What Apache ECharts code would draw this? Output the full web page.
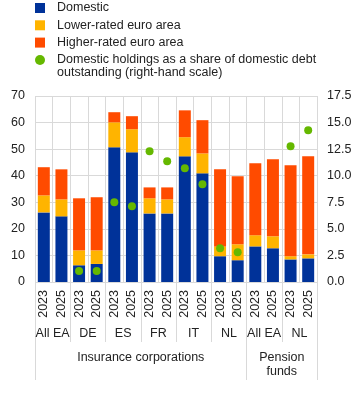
<!DOCTYPE html>
<html><head><meta charset="utf-8">
<script src="https://cdn.jsdelivr.net/npm/echarts@6/dist/echarts.min.js"></script>
<style>html,body{margin:0;padding:0;background:#fff}#c{width:358px;height:403px}</style>
</head><body><div id="c"></div>
<script>
const years = ['2023','2025','2023','2025','2023','2025','2023','2025','2023','2025','2023','2025','2023','2025','2023','2025'];
const countries = ['All EA','DE','ES','FR','IT','NL','All EA','NL'];
const sectorLabels = ['','','','','','','Insurance corporations','','','','','','','','Pension\nfunds','',''];
const sectorTickIdx = [0,12,16];
const domestic = [26.2,24.7,6.3,6.8,50.7,48.8,25.8,25.8,47.3,40.9,9.7,8.2,13.4,12.7,8.5,8.9];
const lowerRated = [6.4,6.4,5.6,5.1,9.4,8.7,5.7,5.3,7.2,7.5,3.7,6.0,4.2,4.5,1.2,1.5];
const higherRated = [10.6,11.3,19.6,20.0,3.8,4.9,4.1,4.5,10.1,12.5,29.0,25.6,27.1,29.0,34.2,36.9];
const shareOfDebt = [null,null,1.03,1.03,7.5,7.12,12.3,11.35,10.7,9.2,3.17,2.79,null,null,12.77,14.27];
const leftTicks = {min:0,max:70,interval:10};
const rightTicks = {min:0,max:17.5,interval:2.5};

const FONT = 'Liberation Sans, Arial, sans-serif';
const FS = 12.5;
const TXT = '#222';
const GRID = '#d9d9d9';
const NAME4_L1 = 'Domestic holdings as a share of domestic debt';
const NAME4_L2 = 'outstanding (right-hand scale)';
const NAME4 = NAME4_L1 + '\n' + NAME4_L2;
const chart = echarts.init(document.getElementById('c'));
chart.setOption({
  animation:false,
  textStyle:{fontFamily:FONT},
  legend:[
    {orient:'vertical',left:35,top:1.5,padding:0,itemWidth:10,itemHeight:10,itemGap:4.3,
      textStyle:{fontFamily:FONT,fontSize:FS,color:TXT,lineHeight:13,padding:[0,0,0,7]},
      data:[{name:'Domestic',icon:'rect'},{name:'Lower-rated euro area',icon:'rect'},{name:'Higher-rated euro area',icon:'rect'}]},
    {orient:'vertical',left:35,top:53.5,padding:0,itemWidth:10,itemHeight:10,
      formatter:()=>NAME4_L1,
      textStyle:{fontFamily:FONT,fontSize:FS,color:TXT,lineHeight:13,padding:[0,0,0,7]},
      data:[{name:NAME4,icon:'circle'}]}
  ],
  graphic:[{type:'text',left:57,top:66,style:{text:NAME4_L2,font:FS+'px '+FONT,fill:TXT,lineHeight:13}}],
  grid:{left:35,right:41,top:96,bottom:121},
  xAxis:[
    {type:'category',data:years,position:'bottom',
      axisLine:{show:false},axisTick:{show:false},
      axisLabel:{rotate:90,margin:8,fontSize:FS,color:TXT,fontFamily:FONT,interval:0},
      splitLine:{show:true,lineStyle:{color:GRID,width:1}}},
    {type:'category',data:countries,position:'bottom',
      axisLine:{show:false},axisTick:{show:true,length:60,lineStyle:{color:GRID}},
      axisLabel:{margin:45,fontSize:FS,color:TXT,fontFamily:FONT,interval:0}},
    {type:'category',data:sectorLabels,boundaryGap:false,position:'bottom',
      axisLine:{show:false},
      axisTick:{show:true,length:98,lineStyle:{color:GRID},interval:(i)=>sectorTickIdx.indexOf(i)>=0},
      axisLabel:{margin:69,fontSize:FS,color:TXT,fontFamily:FONT,interval:0,lineHeight:14,verticalAlign:'top'}}
  ],
  yAxis:[
    {type:'value',min:leftTicks.min,max:leftTicks.max,interval:leftTicks.interval,
      axisLabel:{fontSize:FS,color:TXT,fontFamily:FONT,margin:10},
      axisLine:{show:false},axisTick:{show:false},splitLine:{lineStyle:{color:GRID}}},
    {type:'value',min:rightTicks.min,max:rightTicks.max,interval:rightTicks.interval,position:'right',
      axisLabel:{fontSize:FS,color:TXT,fontFamily:FONT,margin:10,formatter:(v)=>v.toFixed(1)},
      axisLine:{show:false},axisTick:{show:false},splitLine:{show:false}}
  ],
  series:[
    {name:'Domestic',type:'bar',stack:'s',data:domestic,itemStyle:{color:'#003299'},barCategoryGap:'32%'},
    {name:'Lower-rated euro area',type:'bar',stack:'s',data:lowerRated,itemStyle:{color:'#FFB400'}},
    {name:'Higher-rated euro area',type:'bar',stack:'s',data:higherRated,itemStyle:{color:'#FF4B00'}},
    {name:NAME4,type:'scatter',yAxisIndex:1,
      data:shareOfDebt,symbol:'circle',symbolSize:8,itemStyle:{color:'#65B800',opacity:1}}
  ]
});
</script></body></html>
